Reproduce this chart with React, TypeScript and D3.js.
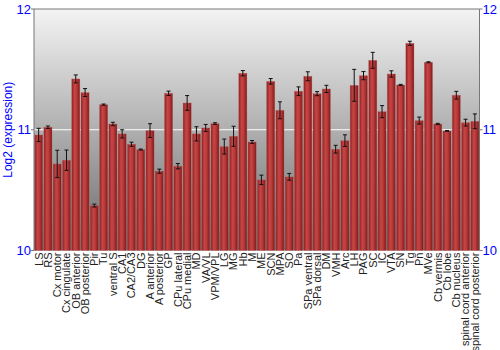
import React from "react";
import * as d3 from "d3";

const categories = ["LS","RS","Cx motor","Cx cingulate","OB anterior","OB posterior","Pir","Tu","ventral S","CA1","CA2/CA3","DG","A anterior","A posterior","GP","CPu lateral","CPu medial","MD","VA/VL","VPM/VPL","LG","MG","Hb","M","ME","SCN","MPA","SO","Pa","SPa ventral","SPa dorsal","DM","VMH","Arc","LH","PAG","SC","IC","VTA","SN","Tg","Pn","MVe","Cb vermis","Cb lobe","Cb nucleus","spinal cord anterior","spinal cord posterior"];
const values = [10.957,11.021,10.717,10.748,11.421,11.308,10.372,11.208,11.048,10.966,10.880,10.836,10.993,10.657,11.302,10.698,11.222,10.966,11.015,11.051,10.861,10.946,11.468,10.899,10.585,11.401,11.161,10.610,11.319,11.443,11.299,11.338,10.839,10.910,11.368,11.448,11.575,11.150,11.462,11.371,11.716,11.076,11.559,11.048,10.990,11.286,11.059,11.070];
const errors = [0.055,0.01,0.113,0.084,0.033,0.033,0.012,0.005,0.014,0.034,0.017,0.004,0.057,0.017,0.018,0.022,0.061,0.059,0.029,0.007,0.062,0.083,0.022,0.012,0.039,0.023,0.07,0.028,0.036,0.037,0.017,0.03,0.032,0.048,0.132,0.034,0.066,0.05,0.026,0.005,0.017,0.029,0.004,0.005,0.003,0.032,0.028,0.061];
const yTicks = [10, 11, 12];

const W = 500, H = 350;
const L = 34, R = 479.5, T = 9, B = 250.5;

export default function App() {
  const x = d3.scaleBand<string>().domain(categories).range([L, R]).paddingInner(0.12).paddingOuter(0.06);
  const y = d3.scaleLinear().domain([10, 12]).range([B, T]);
  const bw = x.bandwidth();
  const font = "'Liberation Sans', Arial, sans-serif";
  return (
    <svg width={W} height={H} style={{ position: "absolute", left: 0, top: 0, background: "#fff" }}>
      <defs>
        <linearGradient id="bg" x1="0" y1="0" x2="0" y2="1">
          <stop offset="0" stopColor="#f4f4f4" />
          <stop offset="1" stopColor="#6a6a6a" />
        </linearGradient>
        <linearGradient id="bar" x1="0" y1="0" x2="1" y2="0">
          <stop offset="0" stopColor="#8a2020" />
          <stop offset="0.35" stopColor="#c64545" />
          <stop offset="0.6" stopColor="#bb3a3a" />
          <stop offset="1" stopColor="#7e1a1a" />
        </linearGradient>
      </defs>
      <rect x={L} y={T} width={R - L} height={B - T} fill="url(#bg)" />
      <line x1={L} x2={R} y1={y(11)} y2={y(11)} stroke="#ffffff" strokeWidth={1.2} />
      {categories.map((c, i) => {
        const bx = x(c)!;
        const cx = bx + bw / 2;
        const v = values[i], e = errors[i];
        return (
          <g key={c}>
            <rect x={bx} y={y(v)} width={bw} height={B - y(v)} fill="url(#bar)" stroke="#c86a6a" strokeOpacity={0.5} strokeWidth={0.6} />
            <line x1={cx} x2={cx} y1={y(v + e)} y2={y(v - e)} stroke="#111" strokeWidth={1} />
            <line x1={cx - 2} x2={cx + 2} y1={y(v + e)} y2={y(v + e)} stroke="#111" strokeWidth={1} />
            <line x1={cx - 2} x2={cx + 2} y1={y(v - e)} y2={y(v - e)} stroke="#111" strokeWidth={1} />
          </g>
        );
      })}
      <path d={`M${L},${B}V${T}H${R}V${B}`} fill="none" stroke="#777" strokeWidth={1} />
      {yTicks.map((t) => (
        <g key={t}>
          <line x1={L - 3} x2={L} y1={y(t)} y2={y(t)} stroke="#777" />
          <line x1={R} x2={R + 3} y1={y(t)} y2={y(t)} stroke="#777" />
          <text x={L - 3} y={y(t)} dy="0.35em" textAnchor="end" fill="#0000ff" fontSize={13} fontFamily={font}>{t}</text>
          <text x={R + 3} y={y(t)} dy="0.35em" textAnchor="start" fill="#0000ff" fontSize={13} fontFamily={font}>{t}</text>
        </g>
      ))}
      <text transform={`translate(12,${(T + B) / 2}) rotate(-90)`} textAnchor="middle" fill="#0000ff" fontSize={12} fontFamily={font}>Log2 (expression)</text>
      {categories.map((c) => (
        <text key={c} transform={`translate(${x(c)! + bw / 2},${B + 2}) rotate(-90)`} dy="0.35em" textAnchor="end" fill="#222" fontSize={11} fontFamily={font}>{c}</text>
      ))}
    </svg>
  );
}
